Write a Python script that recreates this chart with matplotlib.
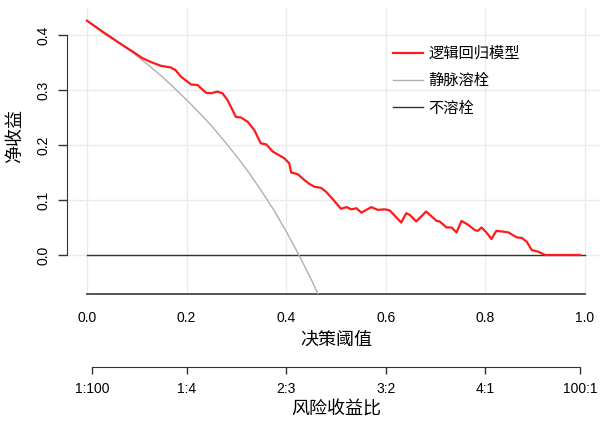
import matplotlib
matplotlib.use("Agg")
import matplotlib.pyplot as plt

plt.rcParams['font.family'] = ['Noto Sans CJK SC', 'DejaVu Sans']

# 决策曲线数据：阈值概率 与 净收益
model_t = [0.0, 0.034, 0.074, 0.095, 0.111, 0.128, 0.148, 0.168, 0.178, 0.189,
           0.202, 0.209, 0.222, 0.239, 0.249, 0.262, 0.272, 0.282, 0.292, 0.299,
           0.309, 0.323, 0.336, 0.349, 0.360, 0.373, 0.396, 0.406, 0.410, 0.423,
           0.437, 0.447, 0.457, 0.470, 0.480, 0.494, 0.510, 0.521, 0.531, 0.541,
           0.551, 0.571, 0.584, 0.598, 0.608, 0.631, 0.641, 0.648, 0.661, 0.681,
           0.702, 0.708, 0.722, 0.732, 0.742, 0.752, 0.765, 0.779, 0.785, 0.792,
           0.802, 0.812, 0.822, 0.839, 0.846, 0.863, 0.873, 0.883, 0.893, 0.906,
           0.920, 0.990]
model_nb = [0.426, 0.404, 0.380, 0.368, 0.358, 0.351, 0.344, 0.341, 0.336, 0.324,
            0.315, 0.310, 0.309, 0.295, 0.294, 0.297, 0.294, 0.282, 0.264, 0.251,
            0.250, 0.242, 0.227, 0.203, 0.201, 0.188, 0.176, 0.167, 0.150, 0.147,
            0.136, 0.129, 0.124, 0.122, 0.115, 0.101, 0.084, 0.087, 0.083, 0.085,
            0.077, 0.087, 0.082, 0.083, 0.081, 0.059, 0.076, 0.073, 0.061, 0.079,
            0.062, 0.061, 0.050, 0.050, 0.041, 0.062, 0.055, 0.045, 0.044, 0.050,
            0.041, 0.029, 0.044, 0.042, 0.041, 0.032, 0.031, 0.024, 0.009, 0.006,
            0.000, 0.000]

# 全部溶栓
all_t = [0.0, 0.025, 0.05, 0.075, 0.10, 0.125, 0.15, 0.175, 0.20, 0.225, 0.25,
         0.275, 0.30, 0.325, 0.35, 0.375, 0.40, 0.425, 0.45, 0.464]
all_nb = [0.426, 0.411, 0.396, 0.379, 0.362, 0.344, 0.325, 0.304, 0.282, 0.259,
          0.235, 0.208, 0.180, 0.150, 0.117, 0.082, 0.043, 0.001, -0.044, -0.071]

# 不溶栓
none_t = [0.0, 1.0]
none_nb = [0.0, 0.0]

x_ticks = [0.0, 0.2, 0.4, 0.6, 0.8, 1.0]
y_ticks = [0.0, 0.1, 0.2, 0.3, 0.4]
odds_pos = [0.0099, 0.2, 0.4, 0.6, 0.8, 0.990]
odds_labels = ['1:100', '1:4', '2:3', '3:2', '4:1', '100:1']

W, H = 600, 422
fig = plt.figure(figsize=(W / 100, H / 100), dpi=100)
ax = fig.add_axes([67 / W, 1 - 294 / H, (W - 67) / W, (294 - 8) / H])
ax.set_xlim(-0.04, 1.030)
ax.set_ylim(-0.0709, 0.449)

ax.grid(True, color='#ebebeb', lw=1)
ax.set_axisbelow(True)

ax.plot(none_t, none_nb, color='#333333', lw=1.0, label='不溶栓', zorder=3)
ax.plot(all_t, all_nb, color='#b0b0b0', lw=1.0, label='静脉溶栓', zorder=3)
ax.plot(model_t, model_nb, color='#ff1a1a', lw=1.6, label='逻辑回归模型', zorder=4)

for s in ['top', 'right']:
    ax.spines[s].set_visible(False)
ax.spines['left'].set_bounds(0, 0.4)
ax.spines['left'].set_color('#333333')
ax.spines['bottom'].set_bounds(0, 1)
ax.spines['bottom'].set_color('#555555')
ax.spines['bottom'].set_linewidth(1.4)

ax.set_yticks(y_ticks)
ax.set_yticklabels([f'{v:.1f}' for v in y_ticks], rotation=90, va='center',
                   family='Liberation Sans', fontsize=10)
ax.tick_params(axis='y', length=6.5, width=1, color='#333333', pad=5.5)
ax.set_xticks(x_ticks)
ax.set_xticklabels([f'{v:.1f}' for v in x_ticks], family='Liberation Sans', fontsize=10)
ax.tick_params(axis='x', length=0, pad=12)

handles, labels = ax.get_legend_handles_labels()
ax.legend(handles[::-1], labels[::-1], loc='upper left',
          bbox_to_anchor=(393 / W, 1 - 45 / H), bbox_transform=fig.transFigure,
          frameon=False, fontsize=11, handlelength=1.95, handletextpad=0.35,
          labelspacing=0.68, borderpad=0, borderaxespad=0)

fig.text(15 / W, 1 - 136 / H, '净收益', rotation=90, ha='center', va='center', fontsize=13)
fig.text(336.5 / W, 1 - 340 / H, '决策阈值', ha='center', va='center', fontsize=13)

# 风险收益比坐标轴
ax2 = fig.add_axes([67 / W, 1 - 367 / H, (W - 67) / W, 0.001])
ax2.set_xlim(ax.get_xlim())
ax2.patch.set_visible(False)
for s in ['top', 'right', 'left']:
    ax2.spines[s].set_visible(False)
ax2.spines['bottom'].set_bounds(odds_pos[0], odds_pos[-1])
ax2.spines['bottom'].set_color('#333333')
ax2.set_yticks([])
ax2.set_xticks(odds_pos)
ax2.set_xticklabels(odds_labels, family='Liberation Sans', fontsize=10)
ax2.tick_params(axis='x', length=5, width=1, color='#333333', pad=6)

fig.text(336.5 / W, 1 - 410 / H, '风险收益比', ha='center', va='center', fontsize=13)

fig.savefig('out.png', dpi=100)
